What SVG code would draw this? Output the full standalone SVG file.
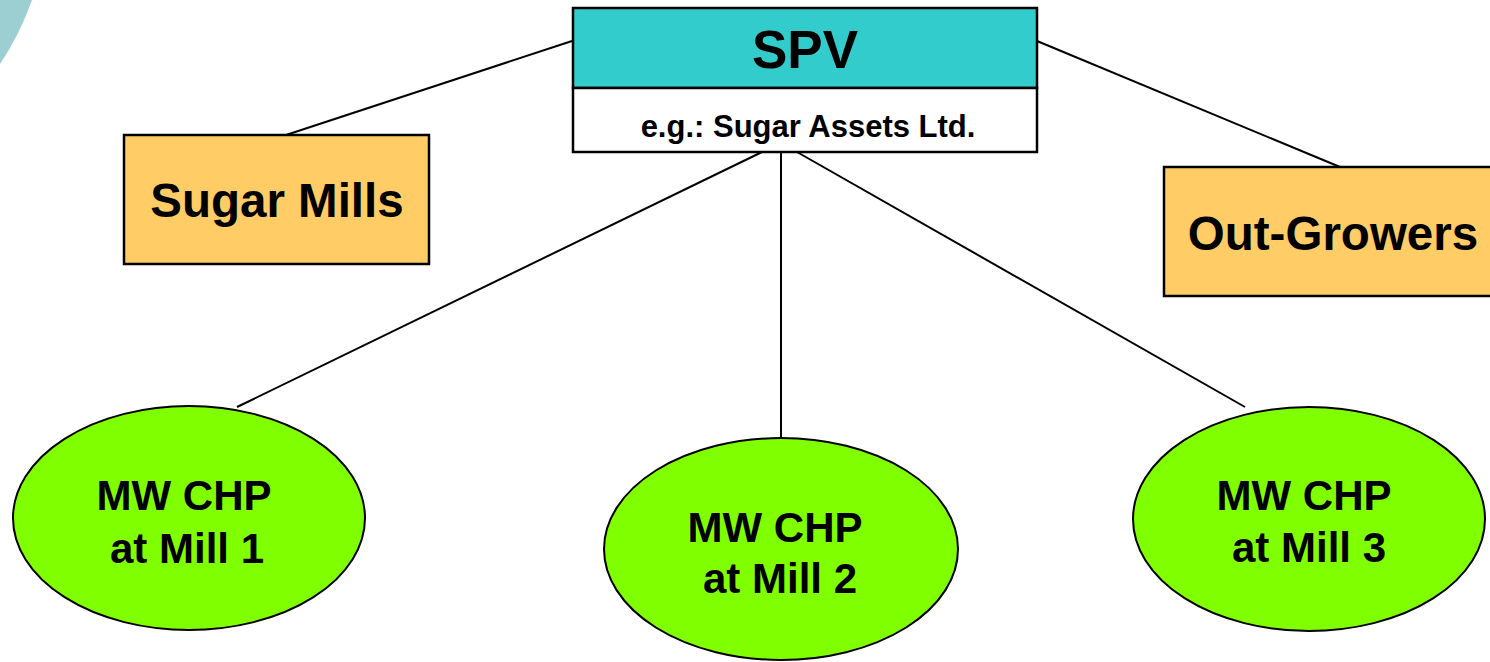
<svg xmlns="http://www.w3.org/2000/svg" width="1490" height="662" viewBox="0 0 1490 662">
<style>
.t{font-family:"Liberation Sans",Arial,sans-serif;font-weight:bold;fill:#000;text-anchor:middle}
.box{stroke:#000;stroke-width:2.5}
.org{fill:#FFCC66}
.ell{fill:#80FF00;stroke:#000;stroke-width:2}
.c{stroke:#000;stroke-width:2;fill:none}
</style>
<rect width="1490" height="662" fill="#fff"/>
<path d="M0,0 L32,0 Q19,36 0,64 Z" fill="#9ccfd1"/>
<g id="connectors">
<line class="c" x1="572" y1="41" x2="286" y2="135"/>
<line class="c" x1="1037" y1="41" x2="1340" y2="167"/>
<line class="c" x1="762" y1="152" x2="237" y2="407"/>
<line class="c" x1="781" y1="152" x2="781" y2="439"/>
<line class="c" x1="797" y1="152" x2="1245" y2="407"/>
</g>
<g id="spv">
<rect x="573" y="8" width="464" height="80" fill="#33CCCC" class="box"/>
<rect x="573" y="88" width="464" height="64" fill="#fff" class="box"/>
<text class="t" x="805" y="68" font-size="53">SPV</text>
<text class="t" x="808" y="137" font-size="31">e.g.: Sugar Assets Ltd.</text>
</g>
<g id="sugar-mills">
<rect x="124" y="135" width="305" height="129" class="box org"/>
<text class="t" x="277" y="217" font-size="47.5">Sugar Mills</text>
</g>
<g id="out-growers">
<rect x="1164" y="167" width="340" height="129" class="box org"/>
<text class="t" x="1333" y="250" font-size="47.5">Out-Growers</text>
</g>
<g id="mill1">
<ellipse class="ell" cx="189" cy="518" rx="176" ry="112"/>
<text class="t" x="184" y="510" font-size="42">MW CHP</text>
<text class="t" x="187" y="563" font-size="42">at Mill 1</text>
</g>
<g id="mill2">
<ellipse class="ell" cx="781" cy="549" rx="177" ry="111"/>
<text class="t" x="775" y="542" font-size="42">MW CHP</text>
<text class="t" x="780" y="593" font-size="42">at Mill 2</text>
</g>
<g id="mill3">
<ellipse class="ell" cx="1309" cy="519" rx="176" ry="112"/>
<text class="t" x="1304" y="510" font-size="42">MW CHP</text>
<text class="t" x="1309" y="562" font-size="42">at Mill 3</text>
</g>
</svg>
